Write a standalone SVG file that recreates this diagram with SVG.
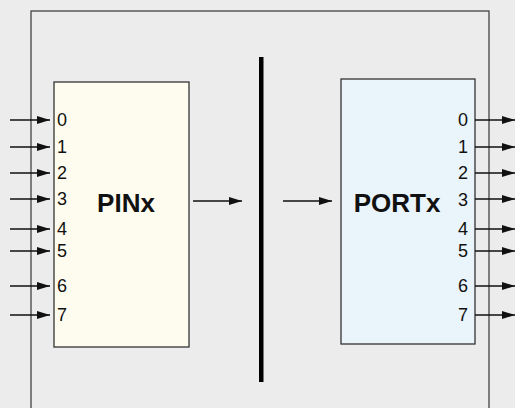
<svg xmlns="http://www.w3.org/2000/svg" width="515" height="408" viewBox="0 0 515 408">
<style>
.lbl{font-family:"Liberation Sans",Arial,sans-serif;font-size:18px;fill:#111}
.ttl{font-family:"Liberation Sans",Arial,sans-serif;font-size:26px;font-weight:bold;fill:#111}
.ar{stroke:#111;stroke-width:1.4;fill:none;marker-end:url(#ah)}
</style>
<defs>
<marker id="ah" viewBox="0 0 13 8" refX="13" refY="4" markerWidth="13" markerHeight="8" markerUnits="userSpaceOnUse" orient="auto">
<path d="M0,0 L13,4 L0,8 Z" fill="#111"/>
</marker>
</defs>
<rect x="0" y="0" width="515" height="408" fill="#ebeceb"/>
<g id="outer">
<rect x="31" y="11" width="458" height="420" fill="none" stroke="#444" stroke-width="1.3"/>
</g>
<g id="pinx">
<rect x="54" y="82" width="135" height="265" fill="#fefcee" stroke="#333" stroke-width="1.3"/>
<text class="ttl" x="126" y="212" text-anchor="middle">PINx</text>
<text class="lbl" x="57" y="126">0</text>
<text class="lbl" x="57" y="153">1</text>
<text class="lbl" x="57" y="179">2</text>
<text class="lbl" x="57" y="205">3</text>
<text class="lbl" x="57" y="235">4</text>
<text class="lbl" x="57" y="257">5</text>
<text class="lbl" x="57" y="292">6</text>
<text class="lbl" x="57" y="321">7</text>
</g>
<g id="bar">
<rect x="259" y="57" width="4.5" height="325" fill="#000"/>
</g>
<g id="portx">
<rect x="341" y="79" width="134" height="265" fill="#e9f4fb" stroke="#333" stroke-width="1.3"/>
<text class="ttl" x="397" y="212" text-anchor="middle">PORTx</text>
<text class="lbl" x="468" y="126" text-anchor="end">0</text>
<text class="lbl" x="468" y="153" text-anchor="end">1</text>
<text class="lbl" x="468" y="179" text-anchor="end">2</text>
<text class="lbl" x="468" y="206" text-anchor="end">3</text>
<text class="lbl" x="468" y="235" text-anchor="end">4</text>
<text class="lbl" x="468" y="257" text-anchor="end">5</text>
<text class="lbl" x="468" y="292" text-anchor="end">6</text>
<text class="lbl" x="468" y="321" text-anchor="end">7</text>
</g>
<g id="connectors">
<line class="ar" x1="10" y1="120" x2="50" y2="120"/>
<line class="ar" x1="10" y1="147" x2="50" y2="147"/>
<line class="ar" x1="10" y1="173" x2="50" y2="173"/>
<line class="ar" x1="10" y1="199" x2="50" y2="199"/>
<line class="ar" x1="10" y1="229" x2="50" y2="229"/>
<line class="ar" x1="10" y1="251" x2="50" y2="251"/>
<line class="ar" x1="10" y1="286" x2="50" y2="286"/>
<line class="ar" x1="10" y1="315" x2="50" y2="315"/>
<line class="ar" x1="193" y1="201" x2="242" y2="201"/>
<line class="ar" x1="283" y1="201" x2="332" y2="201"/>
<line class="ar" x1="475" y1="120" x2="515" y2="120"/>
<line class="ar" x1="475" y1="147" x2="515" y2="147"/>
<line class="ar" x1="475" y1="173" x2="515" y2="173"/>
<line class="ar" x1="475" y1="199" x2="515" y2="199"/>
<line class="ar" x1="475" y1="229" x2="515" y2="229"/>
<line class="ar" x1="475" y1="251" x2="515" y2="251"/>
<line class="ar" x1="475" y1="286" x2="515" y2="286"/>
<line class="ar" x1="475" y1="315" x2="515" y2="315"/>
</g>
</svg>
